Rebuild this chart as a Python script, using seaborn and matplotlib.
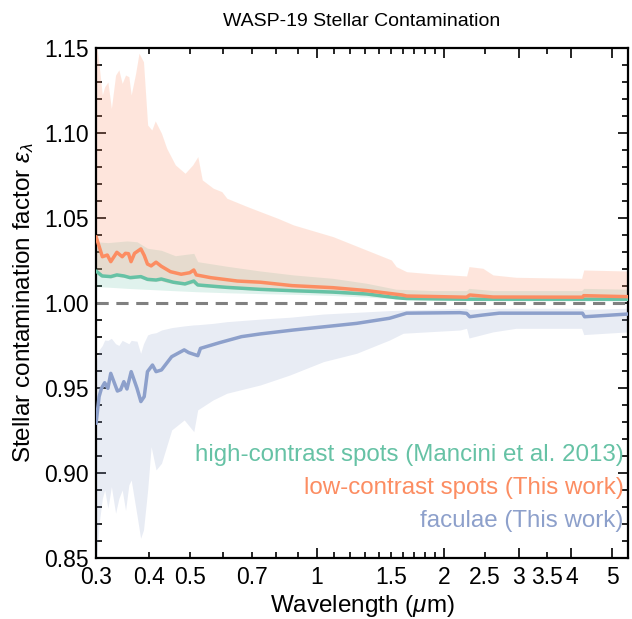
import numpy as np
import matplotlib
matplotlib.use("Agg")
import matplotlib.pyplot as plt
import matplotlib.ticker as mticker
import seaborn as sns

# --- high-contrast spots (Mancini et al. 2013) ---
wl_green = [0.300, 0.310, 0.325, 0.336, 0.349, 0.361, 0.383, 0.397, 0.416, 0.428,
            0.457, 0.487, 0.511, 0.522, 0.610, 0.735, 0.880, 1.09, 1.31, 1.54,
            1.63, 2.26, 5.45]
eps_green = [1.0188, 1.0159, 1.0155, 1.0165, 1.0159, 1.0149, 1.0155, 1.0139, 1.0135, 1.0141,
             1.0122, 1.0112, 1.0129, 1.0106, 1.0092, 1.0080, 1.0072, 1.0064, 1.0053, 1.0031,
             1.0026, 1.0022, 1.0022]
wl_green_band = [0.300, 0.320, 0.355, 0.375, 0.397, 0.428, 0.462, 0.511, 0.522, 0.612,
                 0.735, 0.880, 1.09, 1.31, 1.54, 1.88, 2.26, 2.29, 2.61, 4.23,
                 4.28, 5.45]
green_hi = [1.0360, 1.0355, 1.0365, 1.0360, 1.0322, 1.0310, 1.0278, 1.0292, 1.0243, 1.0216,
            1.0188, 1.0165, 1.0145, 1.0116, 1.0081, 1.0073, 1.0073, 1.0086, 1.0073, 1.0073,
            1.0086, 1.0081]
green_lo = [1.0096, 1.0093, 1.0086, 1.0083, 1.0080, 1.0076, 1.0072, 1.0067, 1.0066, 1.0060,
            1.0055, 1.0051, 1.0044, 1.0035, 1.0024, 1.0016, 1.0014, 1.0014, 1.0013, 1.0012,
            1.0012, 1.0012]

# --- low-contrast spots (This work) ---
wl_orange = [0.300, 0.3105, 0.319, 0.325, 0.336, 0.346, 0.352, 0.358, 0.363, 0.370,
             0.383, 0.390, 0.397, 0.405, 0.416, 0.428, 0.450, 0.477, 0.500, 0.511,
             0.518, 0.560, 0.648, 0.735, 0.873, 1.09, 1.31, 1.59, 1.63, 2.26,
             2.30, 2.61, 4.25, 4.28, 5.45]
eps_orange = [1.0390, 1.0272, 1.0282, 1.0243, 1.0298, 1.0272, 1.0292, 1.0290, 1.0243, 1.0292,
              1.0318, 1.0280, 1.0229, 1.0218, 1.0240, 1.0216, 1.0184, 1.0169, 1.0178, 1.0194,
              1.0165, 1.0149, 1.0129, 1.0122, 1.0102, 1.0090, 1.0073, 1.0047, 1.0041, 1.0034,
              1.0047, 1.0035, 1.0034, 1.0043, 1.0037]
wl_orange_band = [0.300, 0.305, 0.3104, 0.3144, 0.320, 0.3261, 0.3337, 0.3397, 0.3459, 0.3523,
                  0.3587, 0.3633, 0.3722, 0.3791, 0.3885, 0.3974, 0.4065, 0.4142, 0.4285, 0.4409,
                  0.4622, 0.4873, 0.5079, 0.5224, 0.5352, 0.5682, 0.5952, 0.612, 0.684, 0.735,
                  0.808, 0.880, 1.092, 1.308, 1.50, 1.54, 1.63, 1.88, 2.26, 2.29,
                  2.47, 2.61, 2.96, 4.23, 4.28, 5.45]
orange_hi = [1.155, 1.140, 1.1224, 1.1272, 1.130, 1.1145, 1.1341, 1.1371, 1.1292, 1.1341,
             1.1331, 1.1224, 1.1351, 1.1469, 1.1419, 1.1047, 1.1018, 1.1071, 1.0998, 1.091,
             1.0812, 1.0763, 1.0812, 1.0861, 1.0724, 1.0675, 1.0655, 1.0616, 1.0567, 1.0537,
             1.0498, 1.0459, 1.039, 1.0312, 1.0253, 1.0214, 1.0184, 1.0171, 1.0159, 1.0214,
             1.0204, 1.0165, 1.0151, 1.0145, 1.0194, 1.0188]
orange_lo = [1.0170, 1.0160, 1.0152, 1.0150, 1.0150, 1.0148, 1.0155, 1.0155, 1.0150, 1.0150,
             1.0145, 1.0140, 1.0145, 1.0148, 1.0140, 1.0130, 1.0128, 1.0128, 1.0130, 1.0120,
             1.0112, 1.0105, 1.0115, 1.0098, 1.0095, 1.0090, 1.0087, 1.0085, 1.0078, 1.0074,
             1.0070, 1.0066, 1.0058, 1.0046, 1.0028, 1.0025, 1.0020, 1.0018, 1.0017, 1.0020,
             1.0019, 1.0017, 1.0017, 1.0017, 1.0020, 1.0019]

# --- faculae (This work) ---
wl_blue = [0.300, 0.305, 0.309, 0.3144, 0.320, 0.325, 0.337, 0.343, 0.349, 0.355,
           0.3633, 0.375, 0.383, 0.390, 0.397, 0.408, 0.416, 0.4285, 0.453, 0.485,
           0.497, 0.5224, 0.530, 0.589, 0.663, 0.735, 0.880, 1.241, 1.485, 1.63,
           2.18, 2.26, 2.30, 2.45, 2.70, 4.25, 4.30, 5.45]
eps_blue = [0.9292, 0.9449, 0.9498, 0.9531, 0.9498, 0.9586, 0.9482, 0.9490, 0.9537, 0.9494,
            0.9596, 0.9498, 0.9420, 0.9449, 0.9596, 0.9635, 0.9596, 0.9606, 0.9684, 0.9724,
            0.9708, 0.9690, 0.9733, 0.9767, 0.9802, 0.9818, 0.9841, 0.9880, 0.9910, 0.9940,
            0.9943, 0.9939, 0.9919, 0.9928, 0.9940, 0.9940, 0.9919, 0.9935]
wl_blue_band = [0.300, 0.305, 0.3104, 0.3144, 0.320, 0.3261, 0.3337, 0.3397, 0.3459, 0.3523,
                0.3587, 0.3633, 0.375, 0.3825, 0.3885, 0.3974, 0.405, 0.416, 0.4285, 0.453,
                0.485, 0.511, 0.522, 0.568, 0.612, 0.735, 0.862, 1.036, 1.241, 1.485,
                1.60, 2.18, 2.26, 2.29, 2.61, 2.96, 4.23, 4.28, 5.45]
blue_hi = [0.9650, 0.9724, 0.9750, 0.9782, 0.9780, 0.9792, 0.9760, 0.9750, 0.9780, 0.9770,
           0.9760, 0.9780, 0.9775, 0.9704, 0.9760, 0.9812, 0.9820, 0.9825, 0.9841, 0.9855,
           0.9865, 0.9871, 0.9872, 0.9880, 0.9890, 0.9905, 0.9916, 0.9935, 0.9945, 0.9955,
           0.9958, 0.9968, 0.9968, 0.9962, 0.9968, 0.9969, 0.9969, 0.9962, 0.9969]
blue_lo = [0.8450, 0.8700, 0.8850, 0.8900, 0.8792, 0.8920, 0.8763, 0.8850, 0.8900, 0.8780,
           0.8930, 0.8959, 0.8750, 0.8616, 0.8665, 0.8900, 0.9155, 0.9018, 0.9057, 0.9253,
           0.9312, 0.9243, 0.9371, 0.9430, 0.9469, 0.9518, 0.9576, 0.9655, 0.9704, 0.9782,
           0.9822, 0.9841, 0.9851, 0.9794, 0.9830, 0.9851, 0.9851, 0.9814, 0.9830]

tick_vals = [0.3, 0.4, 0.5, 0.7, 1, 1.5, 2, 2.5, 3, 3.5, 4, 5]
tick_text = ["0.3", "0.4", "0.5", "0.7", "1", "1.5", "2", "2.5", "3", "3.5", "4", "5"]

sns.set_theme(style="ticks")
plt.rcParams["font.family"] = ["Liberation Sans", "DejaVu Sans"]
plt.rcParams["mathtext.fontset"] = "custom"
plt.rcParams["mathtext.rm"] = "Liberation Sans"
plt.rcParams["mathtext.it"] = "Liberation Sans:italic"
plt.rcParams["text.color"] = "black"
plt.rcParams["axes.labelcolor"] = "black"

pal = sns.color_palette("Set2")
c_green, c_orange, c_blue = pal[0], pal[1], pal[2]

fig = plt.figure(figsize=(6.32, 6.19), dpi=100)
ax = fig.add_axes([0.152, 0.0986, 0.8418, 0.8239])

ax.fill_between(wl_green_band, green_lo, green_hi, color=c_green, alpha=0.2, lw=0, zorder=1)
ax.fill_between(wl_orange_band, orange_lo, orange_hi, color=c_orange, alpha=0.22, lw=0, zorder=1)
ax.fill_between(wl_blue_band, blue_lo, blue_hi, color=c_blue, alpha=0.2, lw=0, zorder=1)

ax.axhline(1.0, color="gray", lw=2.2, ls=(0, (4, 2.5)), zorder=2)

sns.lineplot(x=wl_green, y=eps_green, ax=ax, color=c_green, lw=2.5, zorder=3)
sns.lineplot(x=wl_orange, y=eps_orange, ax=ax, color=c_orange, lw=2.5, zorder=4)
sns.lineplot(x=wl_blue, y=eps_blue, ax=ax, color=c_blue, lw=2.5, zorder=3)

ax.set_xscale("log")
ax.set_xlim(0.3, 5.45)
ax.set_ylim(0.85, 1.15)

# x ticks: long at 1, 2, 3, 4, 5; short elsewhere
major_x = [0.3, 1, 2, 3, 4, 5]
minor_x = [0.4, 0.5, 0.6, 0.7, 0.8, 0.9, 1.1, 1.2, 1.3, 1.4, 1.5, 1.6, 1.7, 1.8, 1.9, 2.5, 3.5]
ax.xaxis.set_major_locator(mticker.FixedLocator(major_x))
ax.xaxis.set_minor_locator(mticker.FixedLocator(minor_x))
lab = dict(zip(tick_vals, tick_text))
ax.xaxis.set_major_formatter(mticker.FuncFormatter(lambda v, p: lab.get(round(v, 2), "")))
ax.xaxis.set_minor_formatter(mticker.FuncFormatter(lambda v, p: lab.get(round(v, 2), "")))

ax.yaxis.set_major_locator(mticker.MultipleLocator(0.05))
ax.yaxis.set_minor_locator(mticker.MultipleLocator(0.01))
ax.yaxis.set_major_formatter(mticker.FormatStrFormatter("%.2f"))

ax.tick_params(which="both", direction="in", top=True, right=True, width=1.2,
               labelsize=16.5, colors="black")
ax.tick_params(which="major", length=7)
ax.tick_params(which="minor", length=4)
ax.tick_params(axis="x", which="both", pad=6)
ax.tick_params(axis="y", which="both", pad=5)
for s in ax.spines.values():
    s.set_linewidth(1.6)
    s.set_color("black")

ax.set_xlabel(r"Wavelength ($\mu$m)", fontsize=17.5, labelpad=3)
ax.set_ylabel(r"Stellar contamination factor $\epsilon_\lambda$", fontsize=17.5, labelpad=6)
ax.set_title("WASP-19 Stellar Contamination", fontsize=14, pad=16)

ax.text(0.992, 0.202, "high-contrast spots (Mancini et al. 2013)", transform=ax.transAxes,
        ha="right", va="center", color=c_green, fontsize=17.4)
ax.text(0.992, 0.137, "low-contrast spots (This work)", transform=ax.transAxes,
        ha="right", va="center", color=c_orange, fontsize=17.4)
ax.text(0.992, 0.0725, "faculae (This work)", transform=ax.transAxes,
        ha="right", va="center", color=c_blue, fontsize=17.4)

fig.savefig("out.png", dpi=100)
